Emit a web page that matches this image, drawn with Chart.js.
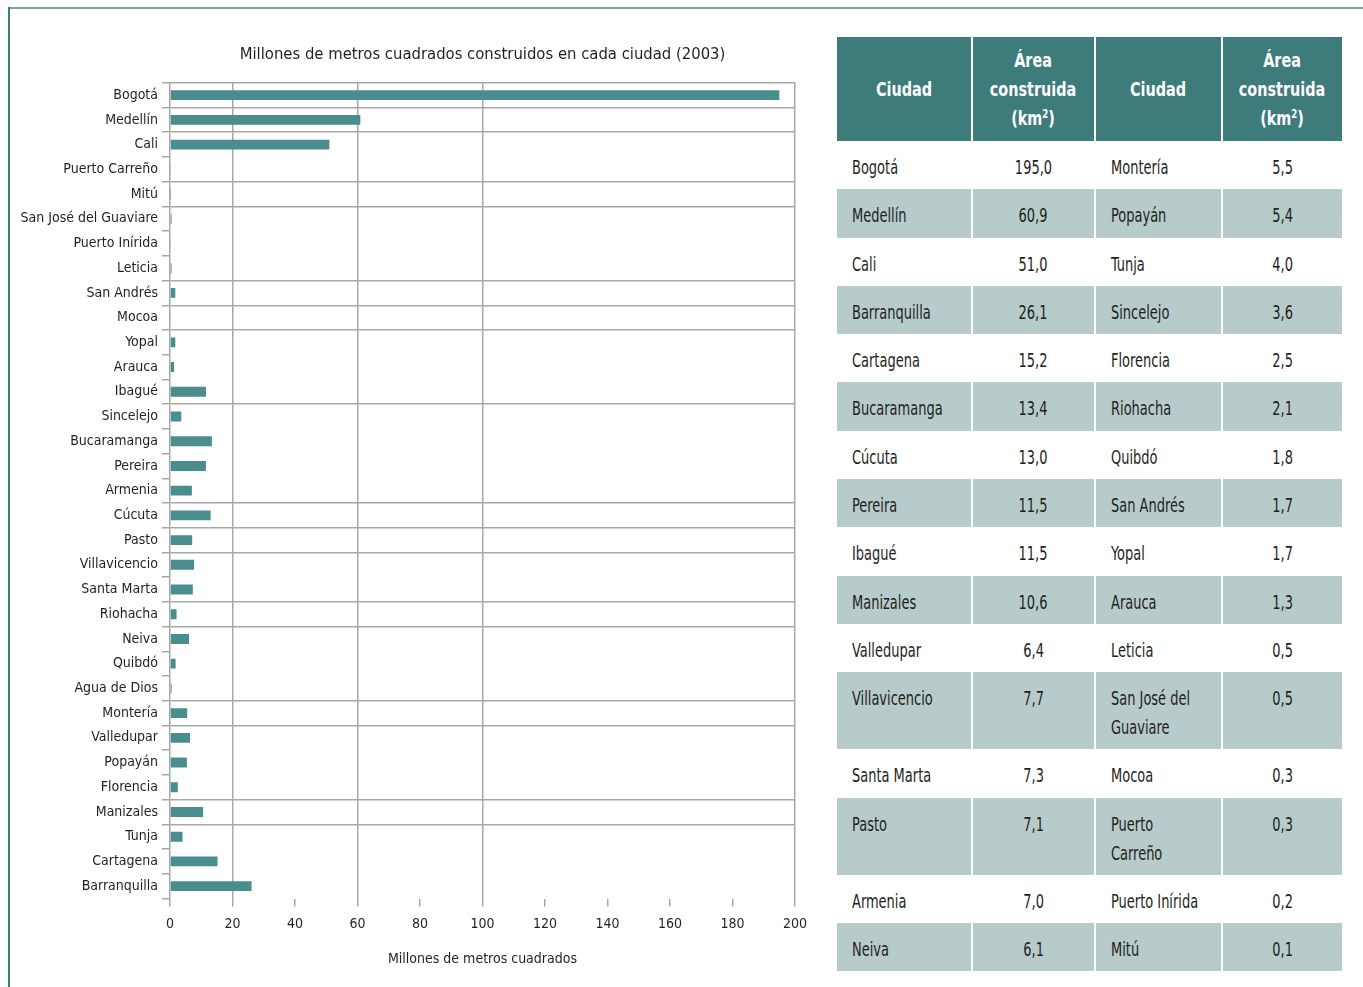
<!DOCTYPE html>
<html lang="es">
<head>
<meta charset="utf-8">
<title>Área construida por ciudad (2003)</title>
<script src="https://cdn.jsdelivr.net/npm/chart.js@4/dist/chart.umd.min.js"></script>
<style>
  html, body { margin: 0; padding: 0; background: #fff; }
  body { width: 1363px; height: 987px; position: relative; overflow: hidden;
         font-family: 'DejaVu Sans Condensed', 'Liberation Sans', sans-serif; color: #231f20; }
  .frame-top { position: absolute; left: 8px; top: 7px; right: 0; height: 2px; background: #7aa8a8; }
  .frame-left { position: absolute; left: 8px; top: 7px; bottom: 0; width: 2px; background: #3d7d7d; }
  #chartBox { position: absolute; left: 0; top: 0; width: 820px; height: 987px; }
  #areaTable { position: absolute; left: 837px; top: 37px; width: 505px;
               border-collapse: collapse; table-layout: fixed; font-size: 19px; }
  #areaTable th { background: #3e7b7b; color: #fff; font-weight: bold; font-size: 20px;
                  line-height: 29px; height: 104px; padding: 0; text-align: center; vertical-align: middle; }
  #areaTable th span { display: inline-block; transform: scaleX(0.8); }
  #areaTable sup { font-size: 12px; line-height: 0; vertical-align: 7px; }
  #areaTable td { line-height: 29px; padding: 12px 0 7px 15px; vertical-align: top; white-space: pre; }
  #areaTable td span { display: inline-block; transform: scaleX(0.76); transform-origin: 0 50%; }
  #areaTable td.num { text-align: center; padding-left: 0; }
  #areaTable td.num span { transform-origin: 50% 50%; }
  #areaTable th + th, #areaTable td + td { border-left: 2px solid #fff; }
  #areaTable tr.alt td { background: #b8cbcb; }
  #areaTable tbody tr { height: 48.3px; }
</style>
</head>
<body>
<div class="frame-top"></div>
<div class="frame-left"></div>
<div id="chartBox"><canvas id="areaChart"></canvas></div>
<table id="areaTable">
  <colgroup><col style="width:135px"><col style="width:123px"><col style="width:127px"><col style="width:120px"></colgroup>
  <thead>
    <tr>
      <th><span>Ciudad</span></th>
      <th><span>Área<br>construida<br>(km<sup>2</sup>)</span></th>
      <th><span>Ciudad</span></th>
      <th><span>Área<br>construida<br>(km<sup>2</sup>)</span></th>
    </tr>
  </thead>
  <tbody></tbody>
</table>

<script>
// ciudades en el orden del gráfico (de arriba hacia abajo)
const cities = [
  'Bogotá', 'Medellín', 'Cali', 'Puerto Carreño', 'Mitú', 'San José del Guaviare',
  'Puerto Inírida', 'Leticia', 'San Andrés', 'Mocoa', 'Yopal', 'Arauca', 'Ibagué',
  'Sincelejo', 'Bucaramanga', 'Pereira', 'Armenia', 'Cúcuta', 'Pasto', 'Villavicencio',
  'Santa Marta', 'Riohacha', 'Neiva', 'Quibdó', 'Agua de Dios', 'Montería', 'Valledupar',
  'Popayán', 'Florencia', 'Manizales', 'Tunja', 'Cartagena', 'Barranquilla'
];
// millones de m2 (= km2)
const areas = [
  195.0, 60.9, 51.0, 0.3, 0.1, 0.5,
  0.2, 0.5, 1.7, 0.3, 1.7, 1.3, 11.5,
  3.6, 13.4, 11.5, 7.0, 13.0, 7.1, 7.7,
  7.3, 2.1, 6.1, 1.8, 0.5, 5.5, 6.4,
  5.4, 2.5, 10.6, 4.0, 15.2, 26.1
];
const xTicks = [0, 20, 40, 60, 80, 100, 120, 140, 160, 180, 200];

// columnas de la tabla (los \n marcan el corte de línea)
const tableLeft = ['Bogotá', 'Medellín', 'Cali', 'Barranquilla', 'Cartagena', 'Bucaramanga',
  'Cúcuta', 'Pereira', 'Ibagué', 'Manizales', 'Valledupar', 'Villavicencio',
  'Santa Marta', 'Pasto', 'Armenia', 'Neiva'];
const tableRight = ['Montería', 'Popayán', 'Tunja', 'Sincelejo', 'Florencia', 'Riohacha',
  'Quibdó', 'San Andrés', 'Yopal', 'Arauca', 'Leticia', 'San José del\nGuaviare',
  'Mocoa', 'Puerto\nCarreño', 'Puerto Inírida', 'Mitú'];

const FONT = "'DejaVu Sans Condensed', 'Liberation Sans', sans-serif";
const INK = '#231f20';
const GRID = '#a8a8a8';

// líneas de cuadrícula que cruzan todo el gráfico; las demás solo muestran la marca
const fullRows = new Set([0, 1, 2, 4, 5, 8, 9, 10, 13, 17, 18, 19, 21, 22, 25, 26, 29, 30]);
const fullCols = new Set([1, 3, 5, 10]);

const fmt = v => v.toFixed(1).replace('.', ',');
const valueOf = name => areas[cities.indexOf(name.replace('\n', ' '))];

// tabla
const tbody = document.querySelector('#areaTable tbody');
tableLeft.forEach((name, i) => {
  const tr = document.createElement('tr');
  if (i % 2 === 1) tr.className = 'alt';
  const cells = [
    [name, ''], [fmt(valueOf(name)), 'num'],
    [tableRight[i], ''], [fmt(valueOf(tableRight[i])), 'num']
  ];
  cells.forEach(([text, cls]) => {
    const td = document.createElement('td');
    const span = document.createElement('span');
    span.textContent = text;
    td.appendChild(span);
    if (cls) td.className = cls;
    tr.appendChild(td);
  });
  tbody.appendChild(tr);
});

// gráfico
new Chart(document.getElementById('areaChart'), {
  type: 'bar',
  data: {
    labels: cities,
    datasets: [{
      data: areas,
      backgroundColor: '#4a8d8e',
      barPercentage: 0.4,
      categoryPercentage: 1.0
    }]
  },
  options: {
    indexAxis: 'y',
    responsive: true,
    maintainAspectRatio: false,
    animation: false,
    layout: { padding: { left: 10, right: 25, top: 45, bottom: 19.6 } },
    plugins: {
      legend: { display: false },
      tooltip: { enabled: false },
      title: {
        display: true,
        fullSize: false,
        text: 'Millones de metros cuadrados construidos en cada ciudad (2003)',
        color: INK,
        font: { family: FONT, size: 16.5, weight: 'normal' },
        padding: { top: 0, bottom: 18 }
      }
    },
    scales: {
      y: {
        afterFit: s => { s.width = 160; },
        ticks: { color: INK, font: { family: FONT, size: 14 }, padding: 4, autoSkip: false },
        grid: {
          offset: true,
          lineWidth: 1.5,
          tickLength: 8,
          tickColor: GRID,
          color: ctx => fullRows.has(ctx.index) ? GRID : 'rgba(0,0,0,0)'
        },
        border: { display: true, color: GRID, width: 1.5 }
      },
      x: {
        min: 0,
        max: 200,
        afterBuildTicks: s => { s.ticks = xTicks.map(v => ({ value: v })); },
        ticks: { color: INK, font: { family: FONT, size: 14 }, padding: 9, maxRotation: 0 },
        grid: {
          lineWidth: 1.5,
          tickLength: 8,
          tickColor: GRID,
          color: ctx => fullCols.has(ctx.index) ? GRID : 'rgba(0,0,0,0)'
        },
        border: { display: false },
        title: {
          display: true,
          text: 'Millones de metros cuadrados',
          color: INK,
          font: { family: FONT, size: 14 },
          padding: { top: 9.3, bottom: 0 }
        }
      }
    }
  }
});
</script>
</body>
</html>
